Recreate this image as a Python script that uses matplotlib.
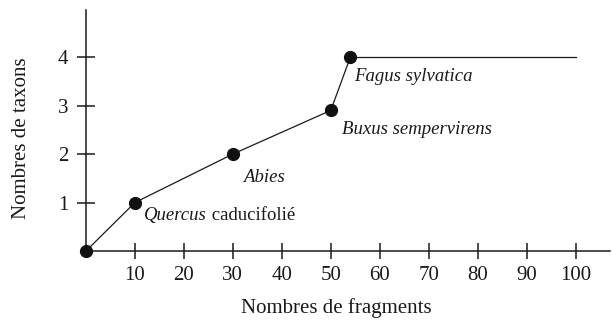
import matplotlib
matplotlib.use("Agg")
import matplotlib.pyplot as plt

plt.rcParams['font.family'] = ['Liberation Serif', 'DejaVu Serif']

# data
fragments = [0, 10, 30, 50, 54]
taxons = [0, 1, 2, 2.9, 4]
plateau_x = [54, 100]
plateau_y = [4, 4]
xticks = [10, 20, 30, 40, 50, 60, 70, 80, 90, 100]
yticks = [1, 2, 3, 4]

# label text (italic part, roman part) and offset in pixels from its point
labels = [
    (1, "Quercus", " caducifolié", (9, -13)),
    (2, "Abies", "", (10, -23)),
    (3, "Buxus sempervirens", "", (11, -19)),
    (4, "Fagus sylvatica", "", (4, -19)),
]

fig = plt.figure(figsize=(6.12, 3.2), dpi=100)
ax = fig.add_axes([0.1405, 0.2156, 0.856, 0.753])

ax.plot(plateau_x, plateau_y, color='#1a1a1a', lw=0.9, zorder=2)
ax.plot(fragments, taxons, color='#1a1a1a', lw=0.9, marker='o', ms=8.5,
        markerfacecolor='#111111', markeredgecolor='#111111', zorder=3,
        clip_on=False)

for i, ital, rom, off in labels:
    t = ax.annotate(ital, (fragments[i], taxons[i]), xytext=off,
                    textcoords='offset pixels', fontsize=13.5, style='italic',
                    ha='left', va='center', color='#1a1a1a')
    if rom:
        ax.annotate(rom, xy=(1, 0.5), xycoords=t, fontsize=13.5,
                    ha='left', va='center', color='#1a1a1a')

ax.set_xlim(0, 107)
ax.set_ylim(0, 4.97)
ax.set_xticks(xticks)
ax.set_yticks(yticks)

for side in ['top', 'right']:
    ax.spines[side].set_visible(False)
for side in ['left', 'bottom']:
    ax.spines[side].set_linewidth(1.1)
    ax.spines[side].set_color('#1a1a1a')

ax.tick_params(axis='x', direction='inout', length=12, width=1.1,
               labelsize=15, pad=5, colors='#1a1a1a')
ax.tick_params(axis='y', direction='inout', length=13, width=1.1,
               labelsize=15, pad=6, colors='#1a1a1a')

ax.set_xlabel("Nombres de fragments", fontsize=15, color='#1a1a1a')
ax.set_ylabel("Nombres de taxons", fontsize=15, color='#1a1a1a')
ax.xaxis.set_label_coords(0.477, -0.195)
ax.yaxis.set_label_coords(-0.105, 0.47)

fig.savefig("out.png", dpi=100)
